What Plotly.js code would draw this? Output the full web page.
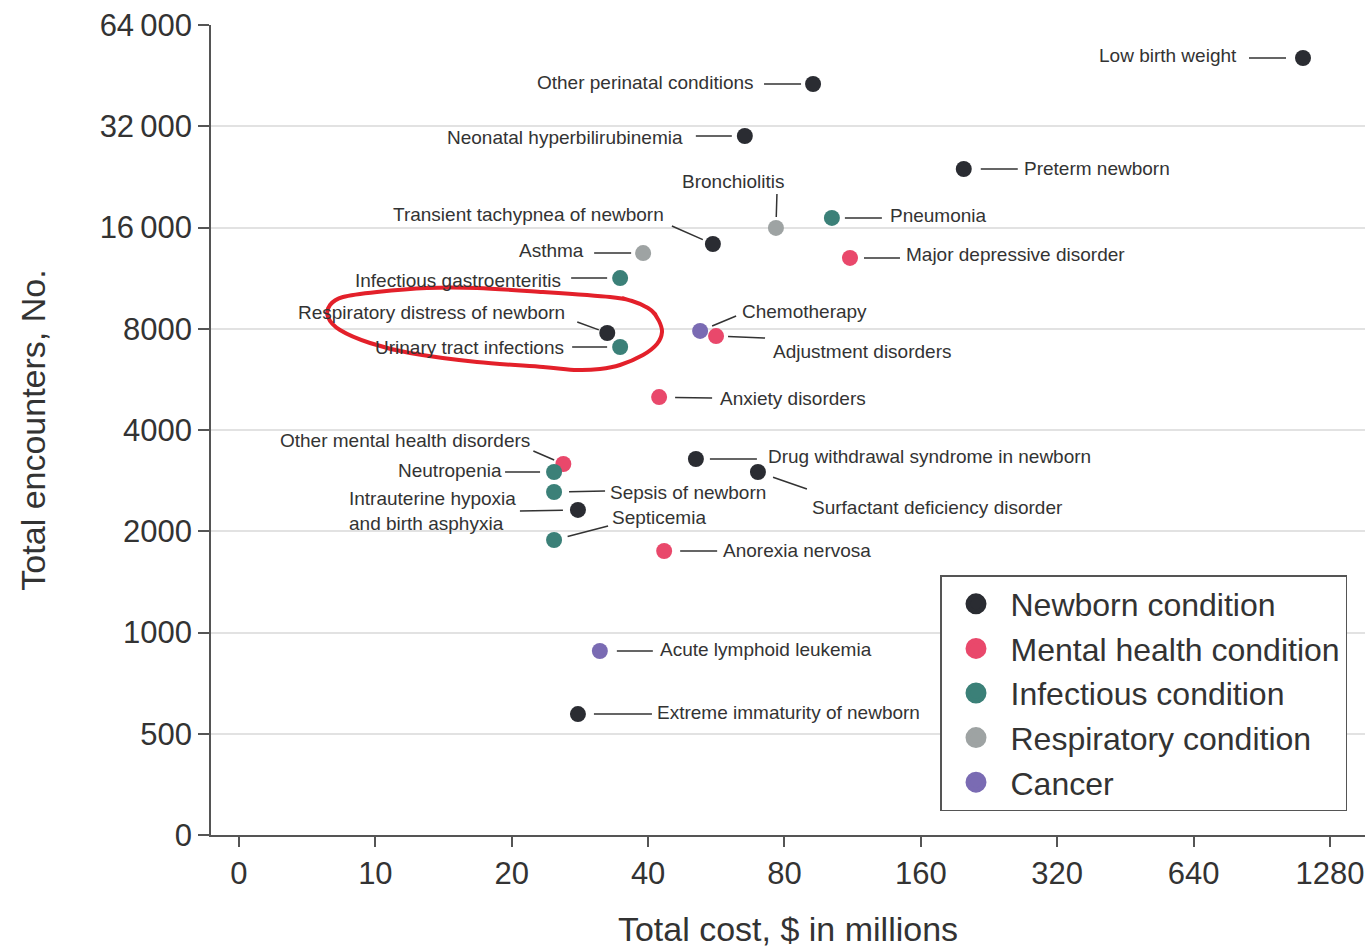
<!DOCTYPE html>
<html>
<head>
<meta charset="utf-8">
<script src="https://cdn.plot.ly/plotly-3.0.1.min.js"></script>
<style>
  html, body { margin: 0; padding: 0; background: #ffffff; }
  #chart { width: 1371px; height: 948px; }
</style>
</head>
<body>
<div id="chart"></div>
<script>
// ---------------- data ----------------
const categories = ['Newborn condition', 'Mental health condition', 'Infectious condition', 'Respiratory condition', 'Cancer'];
const categoryColors = ['#2a2c32', '#e9486b', '#3b8078', '#9ea3a3', '#7a6bb3'];

const conditions = [
  'Low birth weight',
  'Other perinatal conditions',
  'Neonatal hyperbilirubinemia',
  'Preterm newborn',
  'Bronchiolitis',
  'Pneumonia',
  'Transient tachypnea of newborn',
  'Asthma',
  'Major depressive disorder',
  'Infectious gastroenteritis',
  'Respiratory distress of newborn',
  'Urinary tract infections',
  'Chemotherapy',
  'Adjustment disorders',
  'Anxiety disorders',
  'Other mental health disorders',
  'Neutropenia',
  'Sepsis of newborn',
  'Intrauterine hypoxia<br>and birth asphyxia',
  'Septicemia',
  'Drug withdrawal syndrome in newborn',
  'Surfactant deficiency disorder',
  'Anorexia nervosa',
  'Acute lymphoid leukemia',
  'Extreme immaturity of newborn'
];
// Total cost, $ in millions
const totalCost = [1116, 92.5, 65.4, 199, 76.6, 101.8, 55.6, 39.0, 111.6, 34.7, 32.5, 34.7, 52.1, 56.5, 42.3, 26.0, 24.8, 24.8, 28.0, 24.8, 51.0, 69.9, 43.4, 31.3, 28.0];
// Total encounters, No.
const totalEncounters = [51070, 42730, 29930, 23880, 15950, 17080, 14290, 13430, 12990, 11320, 7770, 7060, 7880, 7610, 5010, 3170, 3000, 2617, 2314, 1884, 3280, 3000, 1747, 881, 572];
// index into categories
const conditionCategory = [0, 0, 0, 0, 3, 2, 0, 3, 1, 2, 0, 2, 4, 1, 1, 1, 2, 2, 0, 2, 0, 0, 1, 4, 0];

// axis ticks (log2 spaced; the "0" tick sits one doubling below the first step)
const xTickVals = [5, 10, 20, 40, 80, 160, 320, 640, 1280];
const xTickText = ['0', '10', '20', '40', '80', '160', '320', '640', '1280'];
const yTickVals = [250, 500, 1000, 2000, 4000, 8000, 16000, 32000, 64000];
const yTickText = ['0', '500', '1000', '2000', '4000', '8000', '16\u2009000', '32\u2009000', '64\u2009000'];

// ---------------- label layout (pixel offsets) ----------------
// [leaderTailDx, leaderTailDy, standoff, textAnchor, textDx, textDy]
const labelLayout = [
  [-54, 0, 17, 'right', -66, -2],
  [-49, 0, 12, 'right', -59, -2],
  [-49, 0, 13, 'right', -62, 1],
  [54, 0, 17, 'left', 60, -1],
  [1, -34, 11, 'center', -43, -46],
  [50, 0, 13, 'left', 58, -2],
  [-41, -18, 11, 'right', -49, -30],
  [-49, 0, 12, 'right', -59, -3],
  [50, 0, 14, 'left', 56, -3],
  [-49, 0, 13, 'right', -59, 2],
  [-30, -11, 9, 'right', -42, -21],
  [-48, 0, 13, 'right', -56, 0],
  [36, -15, 13, 'left', 42, -19],
  [49, 2, 12, 'left', 57, 15],
  [53, 1, 16, 'left', 61, 1],
  [-30, -13, 10, 'right', -33, -23],
  [-49, 0, 14, 'right', -52, -2],
  [51, -1, 15, 'left', 56, 1],
  [-58, 1, 15, 'right', -62, 1],
  [54, -14, 14, 'left', 58, -22],
  [61, 0, 14, 'left', 72, -2],
  [49, 17, 16, 'left', 54, 35],
  [53, 0, 16, 'left', 59, -1],
  [53, 0, 17, 'left', 60, -2],
  [74, 0, 16, 'left', 79, -2]
];

// ---------------- build ----------------
const FONT = 'Liberation Sans, Arial, sans-serif';
const TEXT = '#333333';
const AXIS = '#555555';

const traces = [];
// draw order: cancer first so other dots overlay it
const drawOrder = [4, 0, 1, 2, 3];
drawOrder.forEach(function (k) {
  const xs = [], ys = [], names = [];
  conditions.forEach(function (c, i) {
    if (conditionCategory[i] === k) { xs.push(totalCost[i]); ys.push(totalEncounters[i]); names.push(c.replace('<br>', ' ')); }
  });
  traces.push({
    type: 'scatter', mode: 'markers', x: xs, y: ys, text: names,
    name: categories[k], showlegend: false, cliponaxis: false,
    marker: { size: 16, color: categoryColors[k], line: { width: 0 } },
    hovertemplate: '%{text}<br>$%{x}M, %{y} encounters<extra>' + categories[k] + '</extra>'
  });
});
// legend entries
categories.forEach(function (c, k) {
  traces.push({
    type: 'scatter', mode: 'markers', x: [null], y: [null], name: c,
    legendrank: k + 1, showlegend: true, hoverinfo: 'skip',
    marker: { size: 16, color: categoryColors[k], line: { width: 5, color: categoryColors[k] } }
  });
});

const annotations = [];
conditions.forEach(function (c, i) {
  const L = labelLayout[i];
  const lx = Math.log10(totalCost[i]);
  const ly = Math.log10(totalEncounters[i]);
  annotations.push({
    x: lx, y: ly, xref: 'x', yref: 'y', text: '', showarrow: true,
    arrowhead: 0, arrowwidth: 1.5, arrowcolor: TEXT,
    ax: L[0], ay: L[1], standoff: L[2], borderpad: 0, borderwidth: 0
  });
  annotations.push({
    x: lx, y: ly, xref: 'x', yref: 'y', text: c, showarrow: false,
    xanchor: L[3], yanchor: 'middle', xshift: L[4], yshift: -L[5],
    align: 'left', borderpad: 0, borderwidth: 0,
    font: { family: FONT, size: 19, color: TEXT }
  });
});

// hand-drawn red loop around two labels (pixel positions on the page)
const M = { l: 211, r: 6, t: 25, b: 113 };
const W = 1371, H = 948;
const pw = W - M.l - M.r, ph = H - M.t - M.b;
const loopPx = [
  [622, 298], [640, 304], [652, 311], [659, 321], [662, 332], [657, 344], [643, 355], [620, 365], [600, 369],
  [577, 370], [543, 367], [477, 362], [410, 353], [370, 343], [340, 330], [328, 317],
  [330, 305], [343, 297], [377, 292], [427, 288], [477, 288], [543, 292], [610, 297],
  [632, 301], [648, 308], [656, 315]
];
const P = loopPx.map(function (p) { return [(p[0] - M.l) / pw, (H - M.b - p[1]) / ph]; });
let d = 'M' + P[0][0] + ',' + P[0][1];
for (let i = 0; i < P.length - 1; i++) {
  const p0 = P[Math.max(i - 1, 0)], p1 = P[i], p2 = P[i + 1], p3 = P[Math.min(i + 2, P.length - 1)];
  const c1 = [p1[0] + (p2[0] - p0[0]) / 6, p1[1] + (p2[1] - p0[1]) / 6];
  const c2 = [p2[0] - (p3[0] - p1[0]) / 6, p2[1] - (p3[1] - p1[1]) / 6];
  d += ' C' + c1[0] + ',' + c1[1] + ' ' + c2[0] + ',' + c2[1] + ' ' + p2[0] + ',' + p2[1];
}

const layout = {
  width: W, height: H,
  margin: M,
  paper_bgcolor: '#ffffff', plot_bgcolor: '#ffffff',
  font: { family: FONT, color: TEXT },
  showlegend: true,
  xaxis: {
    type: 'log', range: [Math.log10(4.337), Math.log10(1529.4)],
    tickmode: 'array', tickvals: xTickVals, ticktext: xTickText,
    ticks: 'outside', ticklen: 10, tickwidth: 1.5, tickcolor: AXIS,
    showline: true, linecolor: AXIS, linewidth: 1.5,
    showgrid: false, zeroline: false,
    tickfont: { family: FONT, size: 31, color: TEXT },
    title: { text: 'Total cost, $ in millions', font: { family: FONT, size: 34, color: TEXT }, standoff: 27 }
  },
  yaxis: {
    type: 'log', range: [Math.log10(250), Math.log10(64000)],
    tickmode: 'array', tickvals: yTickVals, ticktext: yTickText,
    ticks: 'outside', ticklen: 11, tickwidth: 1.5, tickcolor: AXIS,
    showline: true, linecolor: AXIS, linewidth: 1.5,
    showgrid: true, gridcolor: '#e2e2e2', gridwidth: 1.5, zeroline: false,
    tickfont: { family: FONT, size: 31, color: TEXT },
    title: { text: 'Total encounters, No.', font: { family: FONT, size: 34, color: TEXT }, standoff: 44 }
  },
  legend: {
    x: (940 - M.l) / pw, y: (H - M.b - 575) / ph, xanchor: 'left', yanchor: 'top',
    bgcolor: '#ffffff', bordercolor: AXIS, borderwidth: 1.5,
    font: { family: FONT, size: 32, color: TEXT },
    itemwidth: 59, traceorder: 'normal'
  },
  annotations: annotations,
  shapes: [{
    type: 'path', xref: 'paper', yref: 'paper', path: d, layer: 'above',
    line: { color: '#e3202a', width: 4 }
  }]
};

Plotly.newPlot('chart', traces, layout, { displayModeBar: false, responsive: false });
</script>
</body>
</html>
